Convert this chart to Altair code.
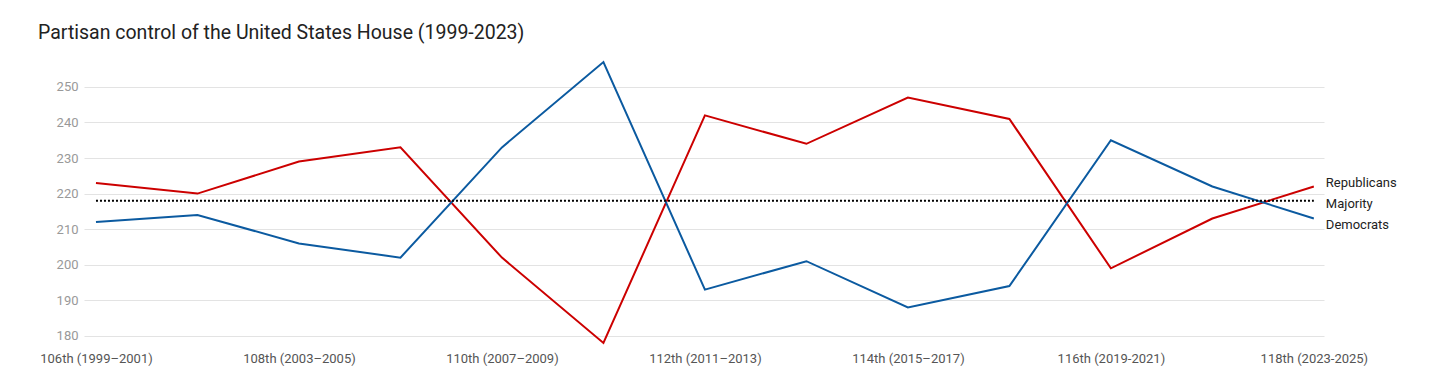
import altair as alt
import pandas as pd

congresses = ["106th (1999–2001)", "107th (2001–2003)", "108th (2003–2005)", "109th (2005–2007)",
              "110th (2007–2009)", "111th (2009–2011)", "112th (2011–2013)", "113th (2013–2015)",
              "114th (2015–2017)", "115th (2017–2019)", "116th (2019-2021)", "117th (2021-2023)",
              "118th (2023-2025)"]
republicans = [223, 220, 229, 233, 202, 178, 242, 234, 247, 241, 199, 213, 222]
democrats = [212, 214, 206, 202, 233, 257, 193, 201, 188, 194, 235, 222, 213]
majority = 218

rows = []
for i, c in enumerate(congresses):
    rows.append({"i": i, "congress": c, "party": "Republicans", "seats": republicans[i]})
    rows.append({"i": i, "congress": c, "party": "Democrats", "seats": democrats[i]})
df = pd.DataFrame(rows)

label_js = "[" + ",".join('"%s"' % c for c in congresses) + "]"

x = alt.X("i:Q", scale=alt.Scale(domain=[-0.118, 12.1], nice=False, zero=False),
          axis=alt.Axis(values=list(range(0, 13, 2)), labelExpr=label_js + "[datum.value]",
                        grid=False, domain=False, ticks=False, labelColor="#555555",
                        labelFontSize=13, labelFont="Roboto", labelPadding=9, title=None,
                        labelFlush=False))
y = alt.Y("seats:Q", scale=alt.Scale(domain=[178, 257], nice=False, zero=False),
          axis=alt.Axis(values=[180, 190, 200, 210, 220, 230, 240, 250], grid=True,
                        gridColor="#e3e3e3", domain=False, ticks=False, labelColor="#999999",
                        labelFontSize=13, labelFont="Roboto", labelPadding=6, title=None))

lines = alt.Chart(df).mark_line(strokeWidth=2, clip=False).encode(
    x=x, y=y,
    color=alt.Color("party:N", scale=alt.Scale(domain=["Republicans", "Democrats"],
                                               range=["#cc0000", "#0b5aa0"]), legend=None),
)

maj_df = pd.DataFrame({"i": [0, 12], "seats": [majority, majority]})
maj = alt.Chart(maj_df).mark_line(color="#000000", strokeWidth=2, strokeDash=[2, 2]).encode(
    x="i:Q", y="seats:Q")

label_names = ["Republicans", "Majority", "Democrats"]
label_seats = [republicans[-1], majority, democrats[-1]]
label_dy = [-3.5, 3, 6]

label_layers = []
for name, s, d in zip(label_names, label_seats, label_dy):
    ldf = pd.DataFrame({"i": [12], "seats": [s], "label": [name]})
    label_layers.append(
        alt.Chart(ldf).mark_text(align="left", baseline="middle", dx=12, dy=d, fontSize=13,
                                 font="Roboto", color="#222222").encode(
            x="i:Q", y="seats:Q", text="label:N"))

chart = alt.layer(lines, maj, *label_layers).properties(
    width=1240, height=281,
    padding={"left": 76, "top": 54, "right": 100, "bottom": 30},
    autosize=alt.AutoSizeParams(type="none"),
    background="white",
    title=alt.TitleParams("Partisan control of the United States House (1999-2023)",
                          anchor="start", frame="group", dx=-46, offset=15, fontSize=19.5,
                          font="Roboto", fontWeight="normal", color="#222222"),
).configure_view(strokeWidth=0)

chart.save("out.html", embed_options={"renderer": "svg", "actions": False})
